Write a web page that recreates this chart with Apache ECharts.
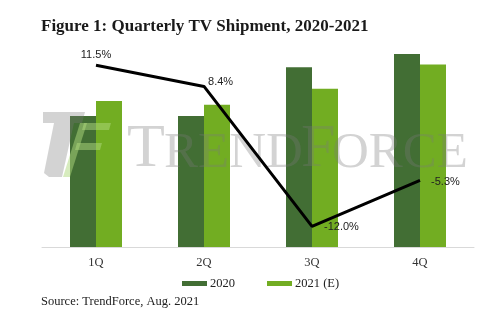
<!DOCTYPE html>
<html><head><meta charset="utf-8">
<script src="https://cdn.jsdelivr.net/npm/echarts@6/dist/echarts.min.js"></script>
<style>html,body{margin:0;padding:0;background:#fff}#c{width:501px;height:323px}</style>
</head><body><div id="c"></div>
<script>
const categories = ['1Q', '2Q', '3Q', '4Q'];
const ship2020 = [47.0, 47.0, 64.5, 69.2];
const ship2021 = [52.4, 51.0, 56.8, 65.5];
const growth = [11.5, 8.4, -12.0, -5.3];
const seriesNames = ['2020', '2021 (E)'];

const chart = echarts.init(document.getElementById('c'), null, {renderer: 'canvas'});
const serif = "'Liberation Serif', 'DejaVu Serif', serif";
const sans = "'Liberation Sans', Arial, sans-serif";
const wm = 'rgba(120,120,120,0.33)';
const gw = 'rgba(175,218,125,0.5)';
const labelCfg = [
  {position: 'top', distance: 5},
  {position: 'right', distance: 4, offset: [0, -4]},
  {position: 'right', distance: 12, offset: [0, 1]},
  {position: 'right', distance: 11, offset: [0, 2]}
];
chart.setOption({
  animation: false,
  backgroundColor: '#ffffff',
  title: {
    text: 'Figure 1: Quarterly TV Shipment, 2020-2021',
    left: 36, top: 13,
    textStyle: {fontFamily: serif, fontWeight: 'bold', fontSize: 17, color: '#1a1a1a'}
  },
  grid: {left: 42, right: 27, top: 24, bottom: 76},
  legend: {
    data: seriesNames,
    left: 177, top: 272,
    itemWidth: 25, itemHeight: 5, itemGap: 32,
    icon: 'rect',
    textStyle: {fontFamily: serif, fontSize: 12.5, color: '#222', padding: [0, 0, 0, -2]}
  },
  xAxis: {
    type: 'category', data: categories,
    axisLine: {lineStyle: {color: '#d9d9d9', width: 1}},
    axisTick: {show: false},
    axisLabel: {fontFamily: serif, fontSize: 12.5, color: '#333', margin: 9}
  },
  yAxis: [
    {type: 'value', min: 0, max: 80, show: false, splitLine: {show: false}},
    {type: 'value', min: -15, max: 17.5, show: false, splitLine: {show: false}}
  ],
  series: [
    {name: seriesNames[0], type: 'bar', data: ship2020, barWidth: 26, barGap: '0%',
     itemStyle: {color: '#426e34'}, z: 2},
    {name: seriesNames[1], type: 'bar', data: ship2021, barWidth: 26,
     itemStyle: {color: '#72ad22'}, z: 2},
    {name: 'YoY', type: 'line', yAxisIndex: 1, z: 10,
     data: growth.map((v, i) => ({value: v, label: labelCfg[i]})),
     symbol: 'circle', symbolSize: 0.1,
     lineStyle: {color: '#000', width: 3},
     itemStyle: {color: '#000'},
     label: {show: true, formatter: p => p.value.toFixed(1) + '%', fontFamily: sans, fontSize: 11, color: '#222'}
    }
  ],
  graphic: [
    {type: 'polygon', z: 5, silent: true, shape: {points: [[43,112],[85,112],[82,123],[74,123],[62,177],[49,177],[44,173],[54,123],[43,123]]}, style: {fill: wm}},
    {type: 'polygon', z: 6, silent: true, shape: {points: [[80,123],[87,123],[70,177],[63,177]]}, style: {fill: gw}},
    {type: 'polygon', z: 6, silent: true, shape: {points: [[84,123],[111,123],[109,130],[82,130]]}, style: {fill: gw}},
    {type: 'polygon', z: 6, silent: true, shape: {points: [[77,143],[102,143],[100,150],[75,150]]}, style: {fill: gw}},
    {type: 'text', z: 5, silent: true, style: {text: 'T', x: 127, y: 181, font: "62px 'Liberation Serif'", fill: wm, textAlign: 'left', textVerticalAlign: 'bottom'}},
    {type: 'text', z: 5, silent: true, style: {text: 'REND', x: 164, y: 179, font: "51px 'Liberation Serif'", fill: wm, textAlign: 'left', textVerticalAlign: 'bottom'}},
    {type: 'text', z: 5, silent: true, style: {text: 'F', x: 301, y: 181, font: "62px 'Liberation Serif'", fill: wm, textAlign: 'left', textVerticalAlign: 'bottom'}},
    {type: 'text', z: 5, silent: true, style: {text: 'ORCE', x: 332, y: 179, font: "51px 'Liberation Serif'", fill: wm, textAlign: 'left', textVerticalAlign: 'bottom'}},
    {type: 'text', z: 5, left: 41, top: 295, style: {text: 'Source: TrendForce, Aug. 2021', font: "12.5px 'Liberation Serif'", fill: '#222'}}
  ]
});
</script></body></html>
